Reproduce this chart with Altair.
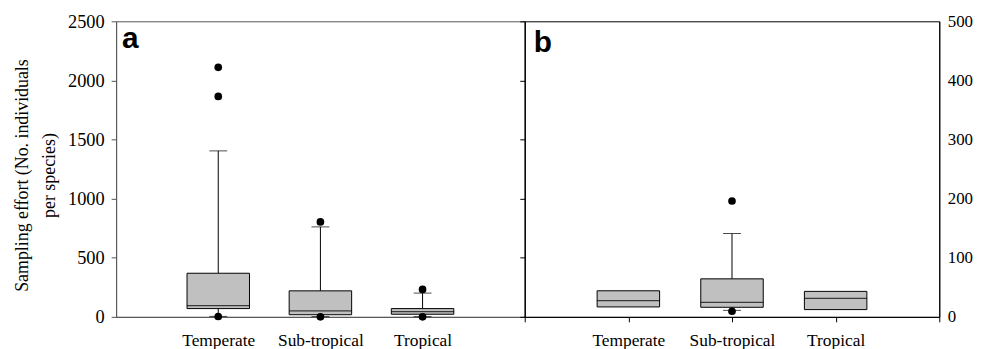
import altair as alt
import pandas as pd

# ---------------- data ----------------
categories = ["Temperate", "Sub-tropical", "Tropical"]
domain_pts = ["", "Temperate", "Sub-tropical", "Tropical", " "]

# Panel a (left axis, 0-2500)
a_q1 = [70, 18, 22]
a_med = [95, 50, 45]
a_q3 = [369, 220, 70]
a_wlo = [4, 2, 2]
a_whi = [1404, 761, 201]
a_out_cat = ["Temperate", "Temperate", "Temperate", "Sub-tropical", "Sub-tropical", "Tropical", "Tropical"]
a_out_val = [2111, 1865, 3, 803, 0, 232, 0]

# Panel b (right axis, 0-500)
b_q1 = [16.8, 16.2, 12.3]
b_med = [27.4, 24.6, 31.4]
b_q3 = [44.1, 64.3, 43.1]
b_wcat = ["Sub-tropical"]
b_wlo = [11]
b_whi = [141]
b_out_cat = ["Sub-tropical", "Sub-tropical"]
b_out_val = [196, 9.5]

SERIF = "Liberation Serif"
BOX_W = 63
CAP_W = 18


def panel(q1, med, q3, wcat, wlo, whi, ocat, oval, ymax, width, letter, lx, ly,
          frame_col, yaxis_main, yaxis_extra, xaxis):
    box = pd.DataFrame({"cat": categories, "q1": q1, "med": med, "q3": q3})
    wh = pd.DataFrame({"cat": wcat, "lo": wlo, "hi": whi,
                       "q1": [q1[categories.index(c)] for c in wcat],
                       "q3": [q3[categories.index(c)] for c in wcat]})
    out = pd.DataFrame({"cat": ocat, "v": oval})

    xs = alt.Scale(type="point", domain=domain_pts, padding=0)
    ys = alt.Scale(domain=[0, ymax], nice=False, zero=True)

    X = alt.X("cat:N", scale=xs, axis=xaxis, sort=domain_pts)

    def Y(f):
        return alt.Y(f, scale=ys, axis=None)

    frame = alt.Chart(box).mark_rule(opacity=0).encode(
        x=X, y=alt.Y("q1:Q", scale=ys, axis=yaxis_main))

    layers = [frame]
    if yaxis_extra is not None:
        layers.append(alt.Chart(box).mark_rule(opacity=0).encode(
            x=X, y=alt.Y("q1:Q", scale=ys, axis=yaxis_extra)))

    whisk_up = alt.Chart(wh).mark_rule(color="black", strokeWidth=1).encode(
        x=X, y=Y("q3:Q"), y2="hi:Q")
    whisk_lo = alt.Chart(wh).mark_rule(color="black", strokeWidth=1).encode(
        x=X, y=Y("lo:Q"), y2="q1:Q")
    cap_hi = alt.Chart(wh).mark_tick(color="black", size=CAP_W, thickness=1, orient="horizontal").encode(
        x=X, y=Y("hi:Q"))
    cap_lo = alt.Chart(wh).mark_tick(color="black", size=CAP_W, thickness=1, orient="horizontal").encode(
        x=X, y=Y("lo:Q"))
    bars = alt.Chart(box).mark_bar(size=BOX_W, fill="#c0c0c0", stroke="black",
                                   strokeWidth=1).encode(
        x=X, y=Y("q1:Q"), y2="q3:Q")
    meds = alt.Chart(box).mark_tick(color="black", size=BOX_W, thickness=1.2, orient="horizontal").encode(
        x=X, y=Y("med:Q"))
    pts = alt.Chart(out).mark_circle(color="black", opacity=1, size=60).encode(
        x=X, y=Y("v:Q"))
    lab = alt.Chart(pd.DataFrame({"t": [letter]})).mark_text(
        font="Liberation Sans", fontWeight="bold", fontSize=30, align="left",
        baseline="alphabetic", color="black").encode(
        x=alt.value(lx), y=alt.value(ly), text="t:N")

    layers += [whisk_up, whisk_lo, cap_hi, cap_lo, bars, meds, pts, lab]
    return alt.layer(*layers).resolve_axis(y="independent").properties(
        width=width, height=298,
        view=alt.ViewBackground(stroke=frame_col, strokeWidth=1))


axis_common = dict(labelFont=SERIF, labelColor="black", grid=False)

# Panel a axes
ya = alt.Axis(values=[0, 500, 1000, 1500, 2000, 2500], orient="left", format="d",
              title=["Sampling effort (No. individuals", "per species)"],
              titleFont=SERIF, titleFontSize=18, titleFontWeight="normal",
              titleColor="black", titleLineHeight=27, titleAngle=-90,
              titleAlign="center", titleBaseline="alphabetic",
              titleX=-89, titleY=155,
              tickSize=5, tickColor="#555", domainColor="#555",
              labelPadding=7, labelFontSize=18.5, **axis_common)
xa = alt.Axis(title=None, orient="bottom", tickSize=5, tickOpacity=0,
              labelPadding=10, labelAngle=0, domainColor="#555",
              labelBaseline="top", labelFontSize=17.5, **axis_common)

# Panel b axes
yb_left = alt.Axis(values=[0, 100, 200, 300, 400, 500], orient="left",
                   title=None, labels=False, tickSize=5, tickColor="black",
                   domainColor="black", grid=False)
yb_right = alt.Axis(values=[0, 100, 200, 300, 400, 500], orient="right", format="d",
                    title=None, tickSize=0, tickOpacity=0, domainColor="black",
                    labelPadding=8, labelFontSize=17, **axis_common)
xb = alt.Axis(title=None, orient="bottom", tickSize=5, tickColor="black",
              labelPadding=10, labelAngle=0, domainColor="black",
              labelBaseline="top", labelFontSize=17.5, **axis_common)

pa = panel(a_q1, a_med, a_q3, categories, a_wlo, a_whi, a_out_cat, a_out_val,
           2500, 412, "a", 6, 27, "#555", ya, None, xa)
pb = panel(b_q1, b_med, b_q3, b_wcat, b_wlo, b_whi, b_out_cat, b_out_val,
           500, 418, "b", 9, 31, "black", yb_left, yb_right, xb)

chart = alt.hconcat(pa, pb, spacing=0, bounds="flush").properties(
    padding={"left": 5, "top": 2, "right": 0, "bottom": 0},
).configure_view(stroke="black")

chart.save("out.html", embed_options={"renderer": "svg", "actions": False})
